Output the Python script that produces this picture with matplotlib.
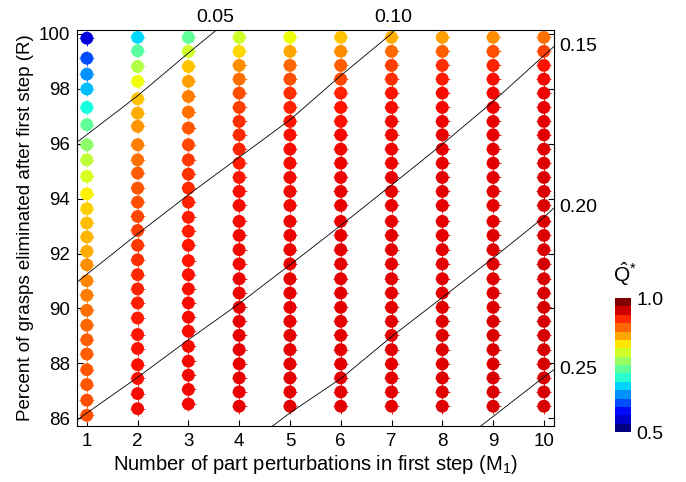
import numpy as np
import matplotlib
matplotlib.use('Agg')
import matplotlib.pyplot as plt
from matplotlib.colors import Normalize
from matplotlib.cm import ScalarMappable

plt.rcParams['font.family'] = ['Liberation Sans', 'DejaVu Sans']
plt.rcParams['mathtext.fontset'] = 'custom'
plt.rcParams['mathtext.rm'] = 'Liberation Sans'
plt.rcParams['mathtext.default'] = 'regular'

# number of part perturbations (columns)
m1_values = [1, 2, 3, 4, 5, 6, 7, 8, 9, 10]

# percent eliminated (R) of each point, read top to bottom
r_col1 = [99.84, 99.11, 98.53, 97.99, 97.32, 96.69, 95.96, 95.41, 94.81, 94.17,
          93.63, 93.11, 92.60, 92.08, 91.59, 91.01, 90.48, 89.93, 89.39, 88.86,
          88.34, 87.77, 87.23, 86.66, 86.11]
r_col2 = [99.87, 99.38, 98.81, 98.27, 97.63, 97.11, 96.63, 95.96, 95.41, 94.93,
          94.38, 93.87, 93.35, 92.84, 92.30, 91.77, 91.23, 90.71, 90.20, 89.65,
          89.05, 88.54, 87.95, 87.45, 86.90, 86.35]
r_col3 = [99.87, 99.36, 98.81, 98.27, 97.72, 97.15, 96.57, 95.96, 95.41, 94.89,
          94.38, 93.87, 93.32, 92.81, 92.30, 91.74, 91.23, 90.71, 90.20, 89.68,
          89.17, 88.62, 88.08, 87.57, 87.05, 86.52]
r_col4_10 = [99.87, 99.36, 98.85, 98.35, 97.84, 97.32, 96.81, 96.32, 95.80, 95.29,
             94.77, 94.26, 93.75, 93.17, 92.66, 92.14, 91.62, 91.08, 90.56, 90.04,
             89.53, 89.02, 88.50, 87.98, 87.47, 86.96, 86.44]
r_cols = [r_col1, r_col2, r_col3] + [r_col4_10] * 7

# Q-hat* of each point
q_cols = [
    [0.542, 0.60, 0.633, 0.656, 0.688, 0.733, 0.76, 0.79, 0.805, 0.828,
     0.845, 0.854, 0.858, 0.862, 0.879, 0.883, 0.888, 0.896, 0.90, 0.905,
     0.905, 0.909, 0.909, 0.913, 0.913],
    [0.668, 0.73, 0.782, 0.82, 0.85, 0.862, 0.875, 0.888, 0.896, 0.905,
     0.909, 0.913, 0.917, 0.921, 0.925, 0.929, 0.933, 0.936, 0.938, 0.94,
     0.943, 0.945, 0.946, 0.947, 0.948, 0.949],
    [0.733, 0.80, 0.85, 0.87, 0.888, 0.896, 0.909, 0.917, 0.925, 0.929,
     0.933, 0.937, 0.94, 0.941, 0.943, 0.944, 0.946, 0.946, 0.948, 0.948,
     0.949, 0.949, 0.95, 0.95, 0.951, 0.951],
    [0.80, 0.84, 0.879, 0.896, 0.913, 0.921, 0.93, 0.933, 0.937, 0.94,
     0.943, 0.946, 0.948, 0.948, 0.95, 0.95, 0.951, 0.952, 0.953, 0.954,
     0.955, 0.955, 0.955, 0.955, 0.955, 0.955, 0.955],
    [0.82, 0.866, 0.90, 0.913, 0.93, 0.937, 0.944, 0.946, 0.948, 0.949,
     0.95, 0.95, 0.951, 0.952, 0.953, 0.953, 0.954, 0.955, 0.955, 0.955,
     0.955, 0.956, 0.956, 0.956, 0.956, 0.956, 0.956],
    [0.85, 0.879, 0.905, 0.917, 0.937, 0.944, 0.946, 0.95, 0.951, 0.952,
     0.953, 0.954, 0.955, 0.955, 0.955, 0.956, 0.956, 0.956, 0.956, 0.956,
     0.957, 0.957, 0.957, 0.957, 0.957, 0.957, 0.957],
    [0.862, 0.90, 0.921, 0.93, 0.944, 0.948, 0.95, 0.951, 0.952, 0.953,
     0.954, 0.955, 0.955, 0.955, 0.956, 0.956, 0.956, 0.956, 0.956, 0.957,
     0.957, 0.957, 0.957, 0.957, 0.957, 0.957, 0.957],
    [0.87, 0.905, 0.93, 0.94, 0.948, 0.95, 0.952, 0.954, 0.955, 0.955,
     0.956, 0.956, 0.956, 0.957, 0.957, 0.957, 0.957, 0.957, 0.957, 0.958,
     0.958, 0.958, 0.958, 0.958, 0.958, 0.958, 0.958],
    [0.879, 0.913, 0.937, 0.946, 0.95, 0.952, 0.954, 0.955, 0.956, 0.956,
     0.957, 0.957, 0.957, 0.957, 0.958, 0.958, 0.958, 0.958, 0.958, 0.958,
     0.959, 0.959, 0.959, 0.959, 0.959, 0.959, 0.959],
    [0.896, 0.921, 0.944, 0.95, 0.952, 0.955, 0.956, 0.957, 0.958, 0.958,
     0.959, 0.959, 0.959, 0.96, 0.96, 0.96, 0.961, 0.961, 0.961, 0.961,
     0.962, 0.962, 0.962, 0.962, 0.962, 0.962, 0.962],
]

# iso-lines, points (M1, R)
iso_labels = ['0.05', '0.10', '0.15', '0.20', '0.25']
iso_side = ['top', 'top', 'right', 'right', 'right']
iso_m1 = [
    [0.80, 0.868, 1.984, 3.0, 3.559],
    [0.80, 0.868, 1.984, 3.0, 4.018, 5.002, 6.02, 6.97, 7.07],
    [0.80, 0.868, 1.984, 3.0, 4.018, 5.002, 6.02, 7.004, 7.988, 9.004, 10.02, 10.2],
    [4.608, 5.002, 6.02, 7.004, 7.988, 9.004, 10.02, 10.2],
    [8.709, 9.004, 10.02, 10.2],
]
iso_r = [
    [96.05, 96.14, 97.72, 99.30, 100.15],
    [90.95, 91.05, 92.69, 94.14, 95.53, 96.87, 98.51, 99.96, 100.15],
    [85.92, 86.02, 87.47, 88.86, 90.20, 91.59, 93.05, 94.50, 95.96, 97.54, 99.24, 99.54],
    [85.65, 86.20, 87.47, 88.98, 90.38, 91.84, 93.35, 93.66],
    [85.65, 86.07, 87.53, 87.77],
]

fig = plt.figure(figsize=(6.86, 4.82), dpi=100)
ax = fig.add_axes([0.1118, 0.1162, 0.6958, 0.8222])

xs, ys, cs = [], [], []
for m, rr, qq in zip(m1_values, r_cols, q_cols):
    xs += [m] * len(rr)
    ys += rr
    cs += qq

norm = Normalize(0.5, 1.0)
ax.scatter(xs, ys, c=cs, cmap='jet', norm=norm, s=86, marker='o',
           linewidths=0, zorder=2)
ax.scatter(xs, ys, c=cs, cmap='jet', norm=norm, s=115, marker='+',
           linewidths=0.6, zorder=2)

for lab, side, mm, rr in zip(iso_labels, iso_side, iso_m1, iso_r):
    ax.plot(mm, rr, color='black', lw=0.6, zorder=3)
    if side == 'top':
        ax.annotate(lab, xy=(mm[-1], 100.15), xytext=(-1, 3), textcoords='offset points',
                    ha='center', va='bottom', fontsize=14, annotation_clip=False)
    else:
        ax.annotate(lab, xy=(10.2, rr[-1]), xytext=(4, 0), textcoords='offset points',
                    ha='left', va='center', fontsize=14, annotation_clip=False)

ax.set_xlim(0.8, 10.2)
ax.set_ylim(85.72, 100.15)
ax.set_xticks(m1_values)
ax.set_yticks(range(86, 101, 2))
ax.tick_params(direction='in', length=4, width=0.8, labelsize=13.5,
               left=True, right=True, top=False, bottom=True, pad=5)
for sp in ax.spines.values():
    sp.set_linewidth(0.8)

ax.set_xlabel('Number of part perturbations in first step (M$_1$)', fontsize=14.5, labelpad=2)
ax.set_ylabel('Percent of grasps eliminated after first step (R)', fontsize=13.5, labelpad=3)

# colorbar
cax = fig.add_axes([0.8965, 0.1037, 0.0233, 0.278])
sm = ScalarMappable(norm=norm, cmap=plt.get_cmap('jet', 16))
cb = fig.colorbar(sm, cax=cax, ticks=[0.5, 1.0])
cb.ax.set_yticklabels(['0.5', '1.0'])
cb.ax.tick_params(length=0, labelsize=14, pad=4)
cb.outline.set_visible(False)
fig.text(0.911, 0.402, r'$\hat{Q}^{*}$', fontsize=15, ha='center', va='bottom')

fig.savefig('out.png', dpi=100)
